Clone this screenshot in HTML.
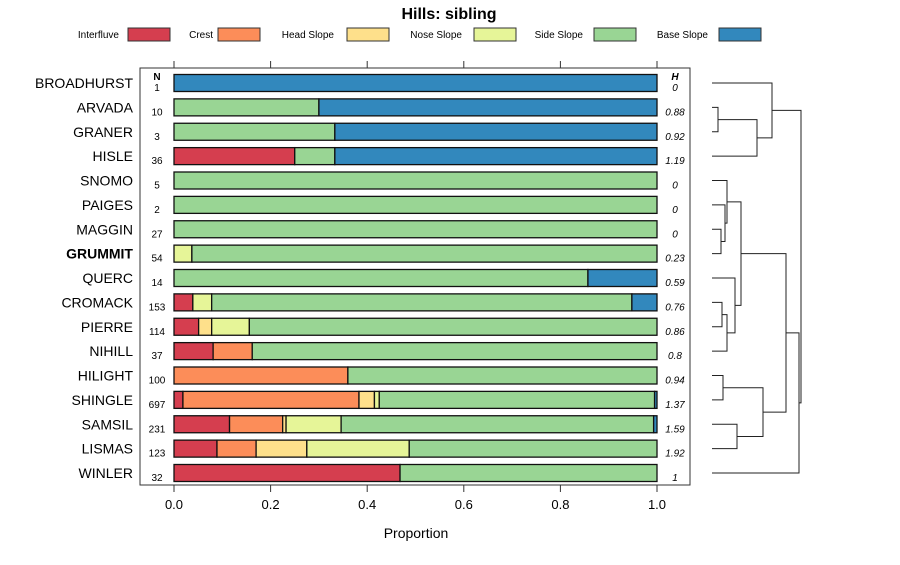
<!DOCTYPE html>
<html><head><meta charset="utf-8">
<style>
body{margin:0;background:#fff;font-family:"Liberation Sans",sans-serif;}
svg text{font-family:"Liberation Sans",sans-serif;}
</style></head>
<body>
<svg id="chart" width="900" height="560" viewBox="0 0 900 560" xmlns="http://www.w3.org/2000/svg">
<text x="449" y="19" text-anchor="middle" font-size="16" font-weight="bold">Hills: sibling</text>
<g id="legend"></g>
<rect x="140" y="68" width="550" height="417" fill="none" stroke="#333" stroke-width="1"/>
<g id="bars"></g>
<g id="axes"></g>
<g id="dendro"></g>
<text x="416" y="538" text-anchor="middle" font-size="14">Proportion</text>
<text x="157" y="80" text-anchor="middle" font-size="10" font-weight="bold">N</text>
<text x="675" y="80" text-anchor="middle" font-size="10" font-weight="bold" font-style="italic">H</text>
</svg>
<script>
const classes = ["Interfluve","Crest","Head Slope","Nose Slope","Side Slope","Base Slope"];
const colors = ["#D53E4F","#FC8D59","#FEE08B","#E6F598","#99D594","#3288BD"];
const names = ["BROADHURST","ARVADA","GRANER","HISLE","SNOMO","PAIGES","MAGGIN","GRUMMIT","QUERC","CROMACK","PIERRE","NIHILL","HILIGHT","SHINGLE","SAMSIL","LISMAS","WINLER"];
const nVals = [1,10,3,36,5,2,27,54,14,153,114,37,100,697,231,123,32];
const hVals = ["0","0.88","0.92","1.19","0","0","0","0.23","0.59","0.76","0.86","0.8","0.94","1.37","1.59","1.92","1"];
const interfluve = [0,0,0,0.25,0,0,0,0,0,0.039,0.051,0.081,0,0.0185,0.115,0.089,0.468];
const crest      = [0,0,0,0,0,0,0,0,0,0,0,0.081,0.36,0.3645,0.11,0.081,0];
const headSlope  = [0,0,0,0,0,0,0,0,0,0,0.027,0,0,0.032,0.007,0.105,0];
const noseSlope  = [0,0,0,0,0,0,0,0.037,0,0.039,0.078,0,0,0.01,0.114,0.212,0];
const sideSlope  = [0,0.3,0.333,0.083,1,1,1,0.963,0.857,0.87,0.844,0.838,0.64,0.57,0.647,0.513,0.532];
const baseSlope  = [1,0.7,0.667,0.667,0,0,0,0,0.143,0.052,0,0,0,0.005,0.007,0,0];
const ticks = [0,0.2,0.4,0.6,0.8,1.0];
const tickLabels = ["0.0","0.2","0.4","0.6","0.8","1.0"];
// dendrogram merges: [left child, right child, merge height]; leaves are 0..16, nodes 17+
const merges = [[1,2,718],[17,3,757],[0,18,772],[6,7,721],[5,20,725],[4,21,727],[9,10,722],[23,11,727],[8,24,735],[22,25,741],[12,13,723],[14,15,737],[27,28,763],[26,29,786],[30,16,799],[19,31,801]];

const NS="http://www.w3.org/2000/svg";
function el(tag,attrs,parent){const e=document.createElementNS(NS,tag);for(const k in attrs)e.setAttribute(k,attrs[k]);parent.appendChild(e);return e;}
const xs=v=>174+v*483;
const ys=i=>83+i*24.375;
const series=[interfluve,crest,headSlope,noseSlope,sideSlope,baseSlope];

// legend
const legPos=[[119,128],[213,218],[334,347],[462,474],[583,594],[708,719]];
const lg=document.getElementById('legend');
classes.forEach((c,k)=>{
  const t=el('text',{x:legPos[k][0],y:38,'text-anchor':'end','font-size':10},lg);t.textContent=c;
  
  
  const r=el('rect',{x:legPos[k][1],y:28,width:42,height:13,fill:colors[k],stroke:'#333','stroke-width':1},lg);
  
  
});

// bars
const bg=document.getElementById('bars');
names.forEach((nm,i)=>{
  const y=ys(i);
  const lab=el('text',{x:133,y:y+5,'text-anchor':'end','font-size':14,'font-weight':nm==='GRUMMIT'?'bold':'normal'},bg);
  lab.textContent=nm;
  
  
  const nt=el('text',{x:157,y:y+8,'text-anchor':'middle','font-size':10},bg);nt.textContent=nVals[i];
  
  
  const ht=el('text',{x:675,y:y+8,'text-anchor':'middle','font-size':10,'font-style':'italic'},bg);ht.textContent=hVals[i];
  
  
  let cum=0;
  series.forEach((s,k)=>{
    const v=s[i]; if(v<=0) return;
    const r=el('rect',{x:xs(cum),y:y-8.5,width:xs(cum+v)-xs(cum),height:17,fill:colors[k],stroke:'#111','stroke-width':1.3},bg);
    
    
    cum+=v;
  });
});

// axes
const ax=document.getElementById('axes');
ticks.forEach((t,j)=>{
  const x=xs(t);
  const a=el('line',{x1:x,x2:x,y1:485,y2:492,stroke:'#333'},ax);
  
  
  const b=el('line',{x1:x,x2:x,y1:61,y2:68,stroke:'#333'},ax);
  
  
  const tl=el('text',{x:x,y:509,'text-anchor':'middle','font-size':13},ax);tl.textContent=tickLabels[j];
  
  
});

// dendrogram
const dg=document.getElementById('dendro');
const nodeY={},nodeX={};
names.forEach((n,i)=>{nodeY[i]=ys(i);nodeX[i]=712;});
merges.forEach((m,j)=>{
  const id=names.length+j,[a,b,h]=m;
  const p=el('path',{d:`M${nodeX[a]},${nodeY[a]}H${h}V${nodeY[b]}H${nodeX[b]}`,fill:'none',stroke:'#222','stroke-width':1},dg);
  
  
  nodeY[id]=(nodeY[a]+nodeY[b])/2;nodeX[id]=h;
});
</script>
</body></html>
